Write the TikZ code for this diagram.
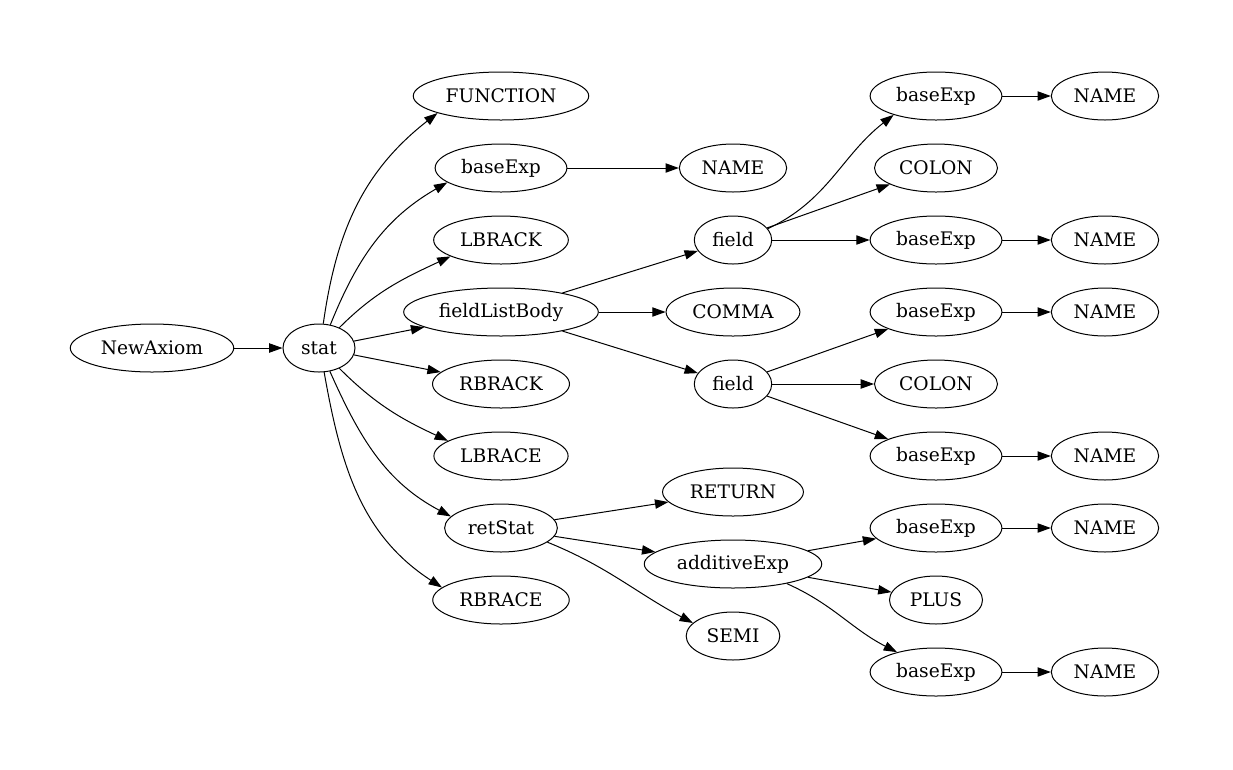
\documentclass[tikz,border=0pt]{standalone}
\usepackage{fontspec}
\setmainfont{DejaVu Serif}
\usetikzlibrary{shapes.geometric,arrows.meta}

\begin{document}
\begin{tikzpicture}[
	x=0.75pt,
	y=-0.75pt,
	line width=0.75pt,
	>={Triangle[length=10pt,width=7pt]},
	every node/.style={
		ellipse,
		draw,
		font=\fontsize{14}{16}\selectfont,
		minimum width=54pt,
		minimum height=36pt,
		inner xsep=5pt,
		inner ysep=2pt
	}
]

\useasboundingbox[fill=white] (0,0) rectangle (1233,769);

\node (NewAxiom) at (152,348) {NewAxiom};
\node (stat) at (319,348) {stat};

\node (FUNCTION) at (501,96) {FUNCTION};
\node (baseExp1) at (501,168) {baseExp};
\node (LBRACK) at (501,240) {LBRACK};
\node (fieldListBody) at (501,312) {fieldListBody};
\node (RBRACK) at (501,384) {RBRACK};
\node (LBRACE) at (501,456) {LBRACE};
\node (retStat) at (501,528) {retStat};
\node (RBRACE) at (501,600) {RBRACE};

\node (NAME1) at (733,168) {NAME};
\node (field1) at (733,240) {field};
\node (COMMA) at (733,312) {COMMA};
\node (field2) at (733,384) {field};
\node (RETURN) at (733,492) {RETURN};
\node (additiveExp) at (733,564) {additiveExp};
\node (SEMI) at (733,636) {SEMI};

\node (baseExp2) at (936,96) {baseExp};
\node (COLON1) at (936,168) {COLON};
\node (baseExp3) at (936,240) {baseExp};
\node (baseExp4) at (936,312) {baseExp};
\node (COLON2) at (936,384) {COLON};
\node (baseExp5) at (936,456) {baseExp};
\node (baseExp6) at (936,528) {baseExp};
\node (PLUS) at (936,600) {PLUS};
\node (baseExp7) at (936,672) {baseExp};

\node (NAME2) at (1105,96) {NAME};
\node (NAME3) at (1105,240) {NAME};
\node (NAME4) at (1105,312) {NAME};
\node (NAME5) at (1105,456) {NAME};
\node (NAME6) at (1105,528) {NAME};
\node (NAME7) at (1105,672) {NAME};

\draw[->] (NewAxiom) -- (stat);

\draw[->] (stat.80) to[out=82,in=218] (FUNCTION.195);
\draw[->] (stat.64) to[out=68,in=210] (baseExp1.195);
\draw[->] (stat.45) to[out=45,in=205] (LBRACK.198);
\draw[->] (stat) -- (fieldListBody);
\draw[->] (stat) -- (RBRACK);
\draw[->] (stat.-45) to[out=-45,in=155] (LBRACE.164);
\draw[->] (stat.-65) to[out=-66,in=152] (retStat.167);
\draw[->] (stat.-78) to[out=-80,in=147] (RBRACE.168);

\draw[->] (baseExp1) -- (NAME1);

\draw[->] (fieldListBody) -- (field1);
\draw[->] (fieldListBody) -- (COMMA);
\draw[->] (fieldListBody) -- (field2);

\draw[->] (field1.18) to[out=25,in=218] (baseExp2.204);
\draw[->] (field1) -- (COLON1);
\draw[->] (field1) -- (baseExp3);

\draw[->] (field2) -- (baseExp4);
\draw[->] (field2) -- (COLON2);
\draw[->] (field2) -- (baseExp5);

\draw[->] (retStat) -- (RETURN);
\draw[->] (retStat) -- (additiveExp);
\draw[->] (retStat.-17) to[out=-22,in=152] (SEMI.162);

\draw[->] (additiveExp) -- (baseExp6);
\draw[->] (additiveExp) -- (PLUS);
\draw[->] (additiveExp.-20) to[out=-24,in=153] (baseExp7.153);

\draw[->] (baseExp2) -- (NAME2);
\draw[->] (baseExp3) -- (NAME3);
\draw[->] (baseExp4) -- (NAME4);
\draw[->] (baseExp5) -- (NAME5);
\draw[->] (baseExp6) -- (NAME6);
\draw[->] (baseExp7) -- (NAME7);

\end{tikzpicture}
\end{document}
